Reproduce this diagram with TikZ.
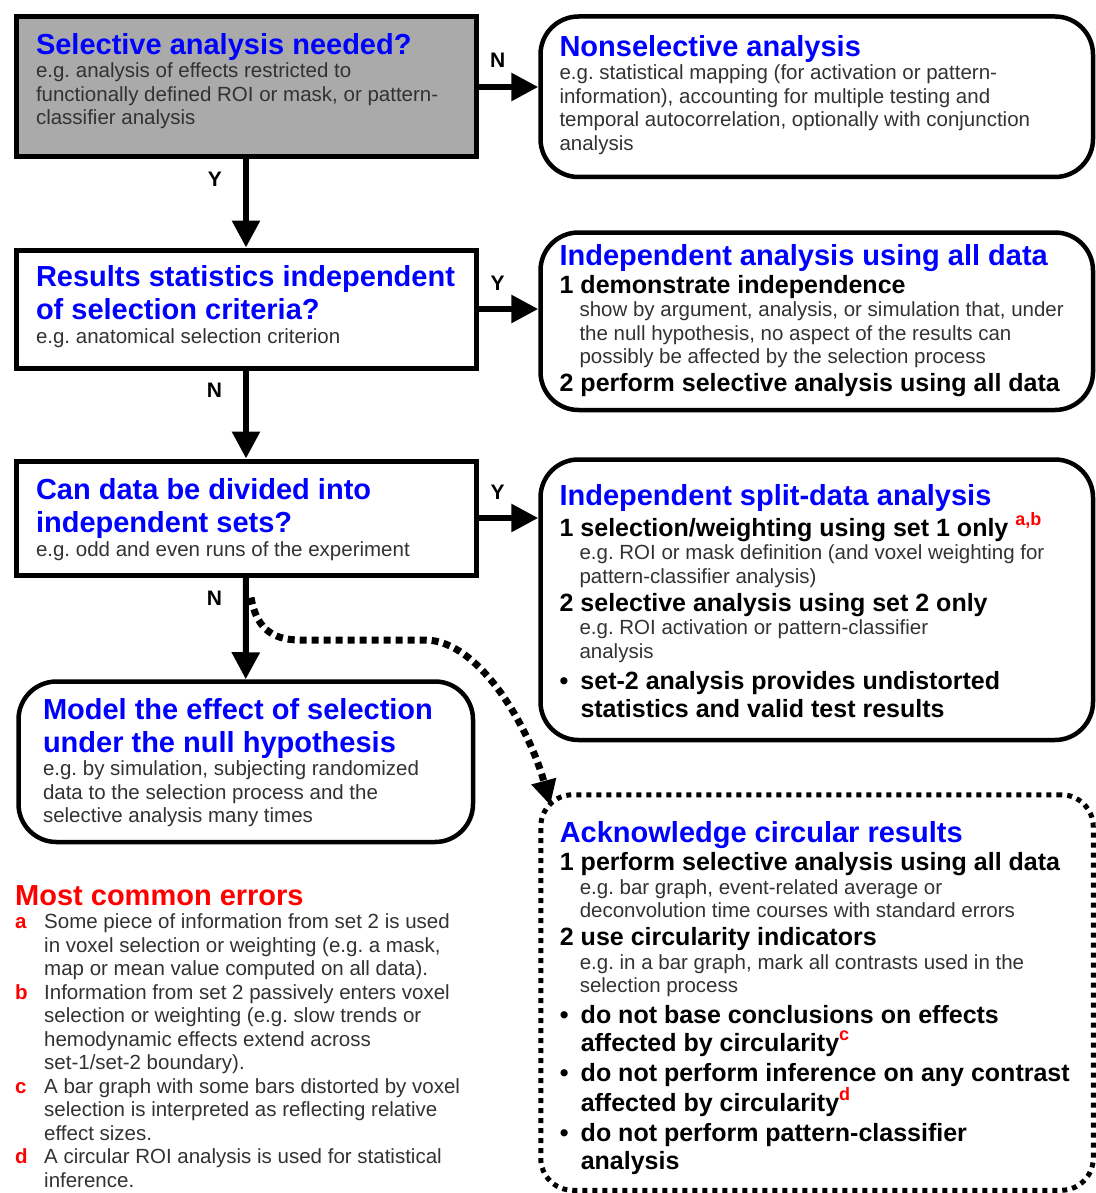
\documentclass[tikz,border=0pt]{standalone}
\usepackage{fontspec}
\setmainfont{Liberation Sans}
\usetikzlibrary{arrows.meta}
\frenchspacing

\definecolor{qblue}{RGB}{0,0,255}
\definecolor{qred}{RGB}{255,0,0}
\definecolor{qgray}{RGB}{170,170,170}
\definecolor{qtext}{RGB}{50,50,50}

% text blocks used inside the boxes
\newcommand{\qfont}[2]{\fontsize{#1}{#2}\selectfont\spaceskip=0pt\xspaceskip=0pt\relax}
\newcommand{\qtitle}[1]{{\qfont{29}{33}\bfseries\color{qblue}#1\par}}
\newcommand{\qbody}[1]{{\qfont{20.5}{23.5}\color{qtext}#1\par}}
\newcommand{\qsub}[1]{{\qfont{20.5}{23.5}\color{qtext}\leftskip=20pt #1\par}}
\newcommand{\qitem}[2]{{\qfont{25}{28}\bfseries\hangindent=21pt\hangafter=1 \makebox[21pt][l]{#1}#2\par}}
\newcommand{\qref}[1]{\raisebox{11pt}{\fontsize{18}{18}\selectfont\bfseries\color{qred}#1}}
\newcommand{\qerr}[2]{{\qfont{20.5}{23.5}\hangindent=29pt\hangafter=1 \makebox[29pt][l]{\bfseries\color{qred}#1}{\color{qtext}#2}\par}}

\begin{document}
\begin{tikzpicture}[x=1pt,y=-1pt,
  qdec/.style={draw, line width=5pt, rectangle, anchor=north west, inner xsep=20pt, inner ysep=0pt},
  qgrey/.style={qdec, fill=qgray},
  qend/.style={draw, line width=4.5pt, rounded corners=38pt, anchor=north west, inner xsep=19pt, inner ysep=0pt},
  qcirc/.style={qend, line width=5pt, dash pattern=on 5pt off 5pt, rounded corners=32pt},
  flow/.style={line width=6pt, -{Triangle[length=27pt,width=27pt]}},
  qdots/.style={line width=7pt, dash pattern=on 7pt off 5pt, -{Triangle[length=25pt,width=24pt]}},
  yn/.style={font=\fontsize{21}{21}\selectfont\bfseries, inner sep=0pt}]
\useasboundingbox (0,0) rectangle (1095,1193);

% decisions on the left
\node[qgrey, text width=420pt, text height=37.5pt, text depth=102.5pt] (sel) at (13.5,14.5) {%
  \qtitle{Selective analysis needed?}
  \qbody{e.g. analysis of effects restricted to\newline functionally defined ROI or mask, or pattern-\newline classifier analysis}};
\node[qdec, text width=420pt, text height=36.5pt, text depth=81.5pt] (indep) at (13.5,247.5) {%
  \qtitle{Results statistics independent\newline of selection criteria?}
  \qbody{e.g. anatomical selection criterion}};
\node[qdec, text width=420pt, text height=38.5pt, text depth=75.5pt] (cdiv) at (13.5,458.5) {%
  \qtitle{Can data be divided into\newline independent sets?}
  \qbody{e.g. odd and even runs of the experiment}};
\node[qend, text width=405.5pt, inner xsep=24.5pt, text height=37.75pt, text depth=122.75pt] (model) at (16.25,679.25) {%
  \qtitle{Model the effect of selection\newline under the null hypothesis}
  \qbody{e.g. by simulation, subjecting randomized\newline data to the selection process and the\newline selective analysis many times}};

% outcomes on the right
\node[qend, text width=514.5pt, text height=39.75pt, text depth=120.75pt] (nonsel) at (538.25,14.25) {%
  \qtitle{Nonselective analysis}
  \qbody{e.g. statistical mapping (for activation or pattern-\newline information), accounting for multiple testing and\newline temporal autocorrelation, optionally with conjunction\newline analysis}};
\node[qend, text width=514.5pt, text height=32.75pt, text depth=144.75pt] (alldata) at (538.25,230.25) {%
  \qtitle{Independent analysis using all data}
  \qitem{1}{demonstrate independence}
  \qsub{show by argument, analysis, or simulation that, under\newline the null hypothesis, no aspect of the results can\newline possibly be affected by the selection process}
  \qitem{2}{perform selective analysis using all data}};
\node[qend, text width=514.5pt, text height=45.75pt, text depth=234.75pt] (split) at (538.25,457.25) {%
  \qtitle{Independent split-data analysis}
  \qitem{1}{selection/weighting using set 1 only\hspace{7pt}\qref{a,b}}
  \qsub{e.g. ROI or mask definition (and voxel weighting for\newline pattern-classifier analysis)}
  \qitem{2}{selective analysis using set 2 only}
  \qsub{e.g. ROI activation or pattern-classifier\newline analysis}
  \vspace{3pt}
  \qitem{\textbullet}{set-2 analysis provides undistorted\newline statistics and valid test results}};
\node[qcirc, text width=514.5pt, text height=47.75pt, text depth=347.75pt] (ackn) at (538.25,792.25) {%
  \qtitle{Acknowledge circular results}
  \qitem{1}{perform selective analysis using all data}
  \qsub{e.g. bar graph, event-related average or\newline deconvolution time courses with standard errors}
  \qitem{2}{use circularity indicators}
  \qsub{e.g. in a bar graph, mark all contrasts used in the\newline selection process}
  \vspace{3pt}
  \qitem{\textbullet}{do not base conclusions on effects\newline affected by circularity\qref{c}}
  \vspace{2pt}
  \qitem{\textbullet}{do not perform inference on any contrast\newline affected by circularity\qref{d}}
  \vspace{2pt}
  \qitem{\textbullet}{do not perform pattern-classifier\newline analysis}};

% list of errors
\node[anchor=base west, inner sep=0pt, text width=500pt] (errors) at (15,905) {%
  {\qfont{29}{33}\bfseries\color{qred}Most common errors\par}
  \qerr{a}{Some piece of information from set 2 is used\newline in voxel selection or weighting (e.g. a mask,\newline map or mean value computed on all data).}
  \qerr{b}{Information from set 2 passively enters voxel\newline selection or weighting (e.g. slow trends or\newline hemodynamic effects extend across\newline set-1/set-2 boundary).}
  \qerr{c}{A bar graph with some bars distorted by voxel\newline selection is interpreted as reflecting relative\newline effect sizes.}
  \qerr{d}{A circular ROI analysis is used for statistical\newline inference.}};

% connectors
\draw[flow] (sel.east) -- node[yn, pos=0.32, above=16pt] {N} (sel.east -| nonsel.west);
\draw[flow] (sel.south) -- node[yn, pos=0.23, left=21pt] {Y} (indep.north);
\draw[flow] (indep.east) -- node[yn, pos=0.32, above=16pt] {Y} (indep.east -| alldata.west);
\draw[flow] (indep.south) -- node[yn, pos=0.23, left=21pt] {N} (cdiv.north);
\draw[flow] (cdiv.east) -- node[yn, pos=0.32, above=16pt] {Y} (cdiv.east -| split.west);
\draw[flow] (cdiv.south) -- node[yn, pos=0.2, left=21pt] {N} (model.north);

\coordinate (dstart) at ([shift={(5,20)}]cdiv.south);
\coordinate (dend) at ([shift={(12,13)}]ackn.north west);
\draw[qdots] (dstart) .. controls (256,626) and (270,640) .. (300,640) -- (425,640)
  .. controls (480,640) and (530,730) .. (dend);
\end{tikzpicture}
\end{document}
